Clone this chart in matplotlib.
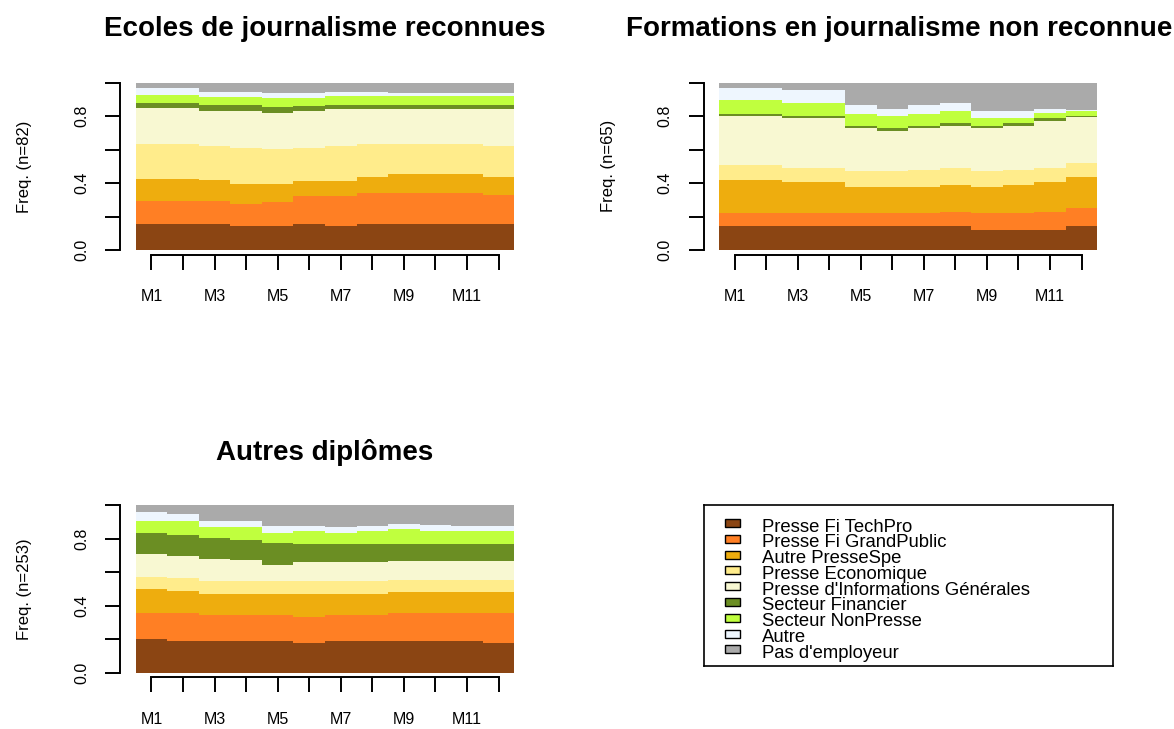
import numpy as np
import matplotlib
matplotlib.use("Agg")
import matplotlib.pyplot as plt
from matplotlib.patches import Rectangle

plt.rcParams['font.family'] = ['Liberation Sans', 'DejaVu Sans']

months = ["M%d" % i for i in range(1, 13)]
states = ["Presse Fi TechPro", "Presse Fi GrandPublic", "Autre PresseSpe",
          "Presse Economique", "Presse d'Informations Générales",
          "Secteur Financier", "Secteur NonPresse", "Autre", "Pas d'employeur"]
colors = ["#8B4513", "#FF7F24", "#EEAD0E", "#FFEC8B", "#F8F8D2",
          "#6B8E23", "#C0FF3E", "#EEF6FE", "#AAAAAA"]

# Panel 1: Ecoles de journalisme reconnues (n=82)
p1_techpro = [0.155, 0.155, 0.155, 0.145, 0.145, 0.155, 0.145, 0.155, 0.155, 0.155, 0.155, 0.155]
p1_grandpublic = [0.139, 0.139, 0.139, 0.133, 0.143, 0.167, 0.177, 0.187, 0.187, 0.187, 0.187, 0.177]
p1_autrespe = [0.133, 0.133, 0.123, 0.116, 0.106, 0.091, 0.091, 0.095, 0.115, 0.115, 0.115, 0.105]
p1_eco = [0.205, 0.205, 0.205, 0.218, 0.208, 0.199, 0.209, 0.195, 0.175, 0.175, 0.175, 0.185]
p1_infogen = [0.215, 0.215, 0.211, 0.221, 0.219, 0.221, 0.221, 0.211, 0.211, 0.211, 0.211, 0.221]
p1_fin = [0.028, 0.028, 0.030, 0.030, 0.030, 0.026, 0.024, 0.024, 0.024, 0.024, 0.024, 0.024]
p1_nonpresse = [0.051, 0.051, 0.053, 0.053, 0.055, 0.047, 0.055, 0.055, 0.055, 0.055, 0.055, 0.055]
p1_autre = [0.044, 0.044, 0.030, 0.030, 0.030, 0.030, 0.024, 0.024, 0.014, 0.014, 0.014, 0.014]
p1_pas = [0.030, 0.030, 0.054, 0.054, 0.064, 0.064, 0.054, 0.054, 0.064, 0.064, 0.064, 0.064]

# Panel 2: Formations en journalisme non reconnues (n=65)
p2_techpro = [0.145, 0.145, 0.145, 0.145, 0.145, 0.145, 0.145, 0.145, 0.123, 0.123, 0.123, 0.145]
p2_grandpublic = [0.074, 0.074, 0.074, 0.074, 0.074, 0.074, 0.074, 0.084, 0.096, 0.096, 0.106, 0.107]
p2_autrespe = [0.198, 0.198, 0.189, 0.189, 0.155, 0.155, 0.155, 0.159, 0.155, 0.169, 0.179, 0.185]
p2_eco = [0.094, 0.094, 0.083, 0.083, 0.097, 0.097, 0.107, 0.103, 0.097, 0.093, 0.083, 0.084]
p2_infogen = [0.290, 0.290, 0.300, 0.300, 0.257, 0.237, 0.247, 0.252, 0.257, 0.260, 0.280, 0.272]
p2_fin = [0.010, 0.010, 0.010, 0.010, 0.013, 0.020, 0.013, 0.018, 0.013, 0.020, 0.020, 0.010]
p2_nonpresse = [0.085, 0.085, 0.076, 0.076, 0.072, 0.073, 0.072, 0.072, 0.050, 0.030, 0.026, 0.030]
p2_autre = [0.074, 0.074, 0.079, 0.079, 0.050, 0.040, 0.050, 0.044, 0.042, 0.042, 0.026, 0.002]
p2_pas = [0.030, 0.030, 0.044, 0.044, 0.137, 0.159, 0.137, 0.123, 0.167, 0.167, 0.157, 0.165]

# Panel 3: Autres diplômes (n=253)
p3_techpro = [0.199, 0.189, 0.189, 0.189, 0.189, 0.179, 0.189, 0.189, 0.189, 0.189, 0.189, 0.179]
p3_grandpublic = [0.155, 0.165, 0.155, 0.155, 0.155, 0.155, 0.155, 0.155, 0.165, 0.165, 0.165, 0.175]
p3_autrespe = [0.145, 0.135, 0.123, 0.123, 0.123, 0.133, 0.123, 0.123, 0.125, 0.125, 0.125, 0.125]
p3_eco = [0.072, 0.076, 0.078, 0.078, 0.078, 0.078, 0.078, 0.078, 0.076, 0.076, 0.076, 0.076]
p3_infogen = [0.137, 0.133, 0.133, 0.125, 0.099, 0.113, 0.113, 0.113, 0.113, 0.113, 0.113, 0.113]
p3_fin = [0.125, 0.125, 0.125, 0.123, 0.129, 0.111, 0.111, 0.111, 0.101, 0.101, 0.101, 0.101]
p3_nonpresse = [0.074, 0.084, 0.064, 0.074, 0.060, 0.074, 0.064, 0.074, 0.088, 0.074, 0.074, 0.074]
p3_autre = [0.051, 0.041, 0.040, 0.040, 0.040, 0.030, 0.034, 0.030, 0.030, 0.040, 0.030, 0.030]
p3_pas = [0.042, 0.052, 0.093, 0.093, 0.127, 0.127, 0.133, 0.127, 0.113, 0.117, 0.127, 0.127]

# titles as visible in the reference (second one is cut at the image edge there)
panels = [
    ("Ecoles de journalisme reconnues", "Freq. (n=82)",
     [p1_techpro, p1_grandpublic, p1_autrespe, p1_eco, p1_infogen, p1_fin, p1_nonpresse, p1_autre, p1_pas]),
    ("Formations en journalisme non reconnue", "Freq. (n=65)",
     [p2_techpro, p2_grandpublic, p2_autrespe, p2_eco, p2_infogen, p2_fin, p2_nonpresse, p2_autre, p2_pas]),
    ("Autres diplômes", "Freq. (n=253)",
     [p3_techpro, p3_grandpublic, p3_autrespe, p3_eco, p3_infogen, p3_fin, p3_nonpresse, p3_autre, p3_pas]),
]

W, H = 1174, 729
fig = plt.figure(figsize=(W / 100, H / 100), dpi=100)

# pixel boxes (left, top, right, bottom)
boxes = [(135.7, 82.5, 514.3, 250.2), (719.0, 82.5, 1097.3, 250.2), (135.7, 505.0, 514.3, 672.7)]

LW = 1.4

for k, ((title, ylab, series), (l, t, r, b)) in enumerate(zip(panels, boxes)):
    ax = fig.add_axes([l / W, 1 - b / H, (r - l) / W, (b - t) / H])
    x = np.arange(len(months))
    bottom = np.zeros(len(months))
    for vals, col in zip(series, colors):
        v = np.array(vals)
        ax.bar(x, v, bottom=bottom, width=1.0, align='edge', color=col, linewidth=0)
        bottom += v
    ax.set_xlim(0, len(months))
    ax.set_ylim(0, 1)
    for s in ['top', 'right']:
        ax.spines[s].set_visible(False)
    ax.spines['left'].set_position(('outward', 11))
    ax.spines['left'].set_bounds(0, 1)
    ax.spines['bottom'].set_position(('outward', 3.2))
    ax.spines['bottom'].set_bounds(x[0] + 0.5, x[-1] + 0.5)
    for s in ['left', 'bottom']:
        ax.spines[s].set_linewidth(LW)
    ax.set_yticks([0, 0.2, 0.4, 0.6, 0.8, 1.0])
    ax.set_yticklabels(["0.0", "", "0.4", "", "0.8", ""], rotation=90, va='center')
    ax.set_xticks(x + 0.5)
    ax.set_xticklabels([m if i % 2 == 0 else "" for i, m in enumerate(months)])
    ax.tick_params(axis='both', direction='out', length=11, width=LW, labelsize=11.5, color='black')
    ax.tick_params(axis='y', pad=11.5)
    ax.tick_params(axis='x', pad=14)
    cx = (l + r) / 2
    if k == 1:
        fig.text(1172 / W, 1 - (t - 53) / H, title, ha='right', va='center',
                 fontsize=20, fontweight='bold')
    else:
        fig.text(cx / W, 1 - (t - 53) / H, title, ha='center', va='center',
                 fontsize=20, fontweight='bold')
    fig.text((l - 111) / W, 1 - ((t + b) / 2) / H, ylab, rotation=90, ha='center', va='center',
             fontsize=12)

# legend box
lx0, ly0, lx1, ly1 = 704, 505, 1113, 666
lax = fig.add_axes([lx0 / W, 1 - ly1 / H, (lx1 - lx0) / W, (ly1 - ly0) / H])
lax.set_xlim(0, lx1 - lx0)
lax.set_ylim(ly1 - ly0, 0)
lax.set_xticks([])
lax.set_yticks([])
for s in lax.spines.values():
    s.set_linewidth(1.2)
row0, dy = 18.0, 15.8
for i, (name, col) in enumerate(zip(states, colors)):
    yc = row0 + i * dy
    lax.add_patch(Rectangle((21, yc - 4), 15, 8, facecolor=col, edgecolor='black', linewidth=1.0))
    lax.text(58, yc + 8.5, name, ha='left', va='baseline', fontsize=13.3)

fig.savefig("out.png", dpi=100)
